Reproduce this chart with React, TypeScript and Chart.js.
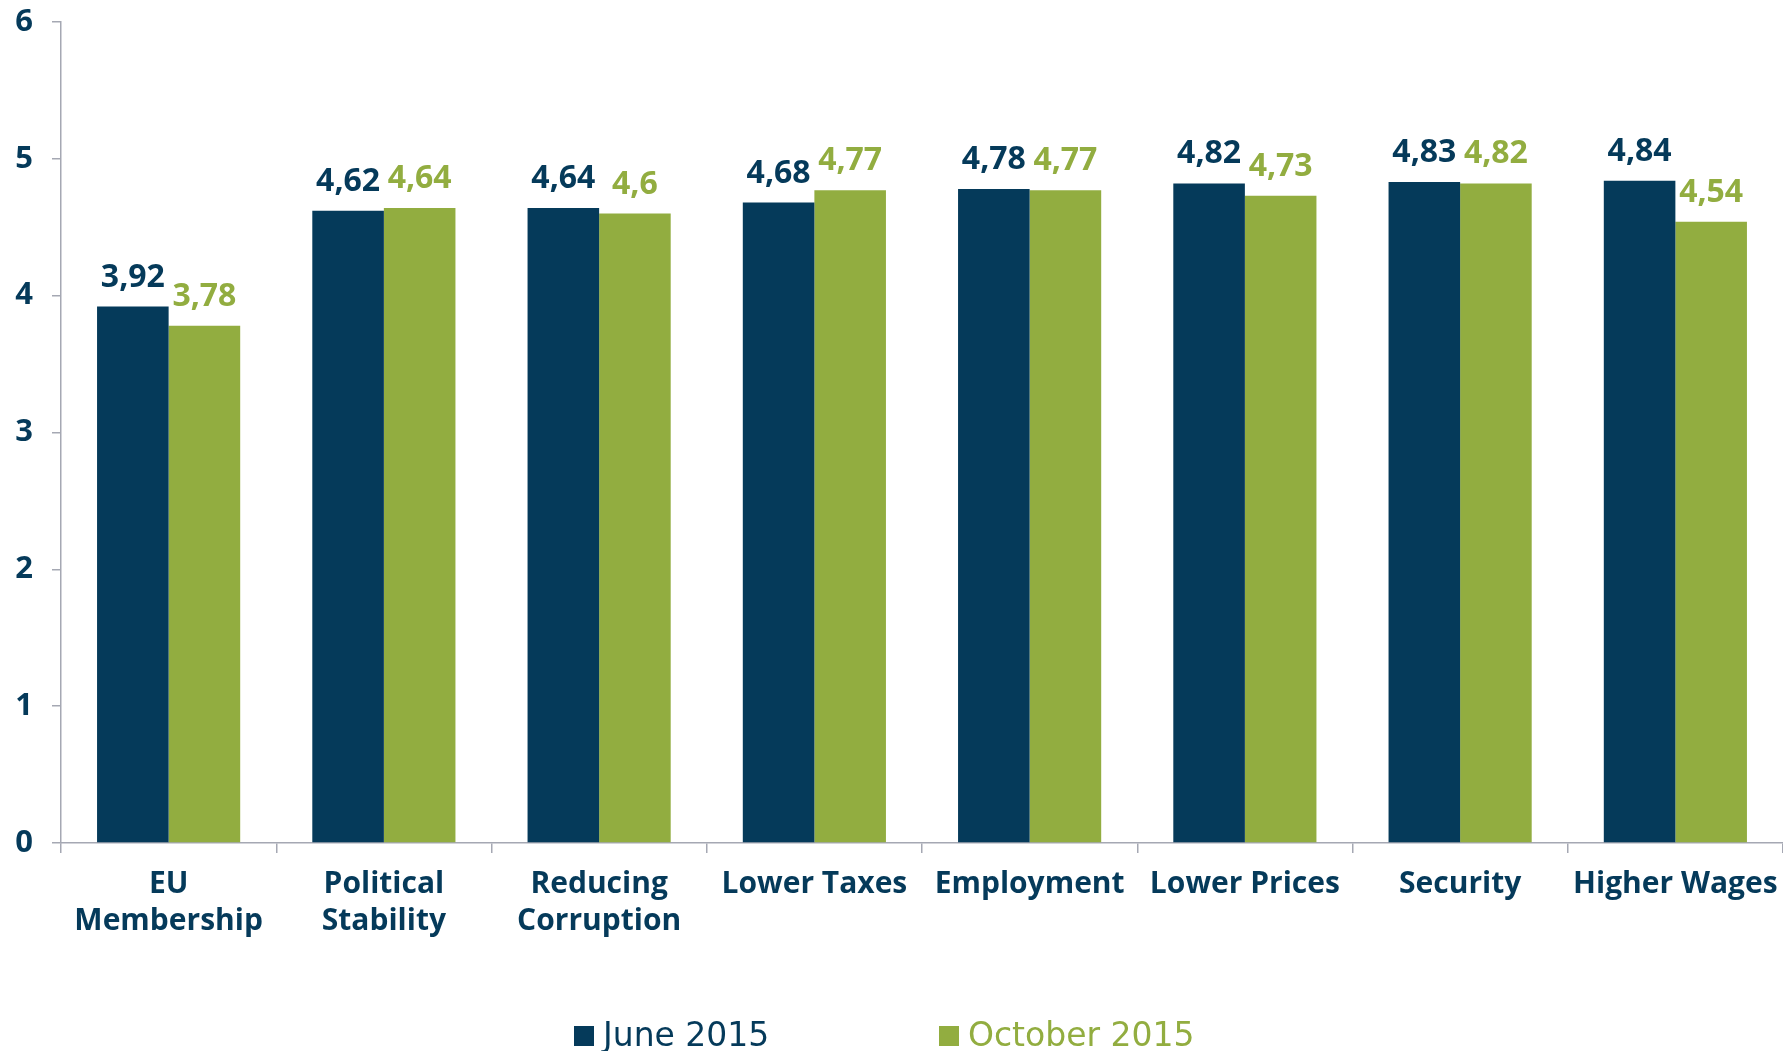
import React, { useEffect, useRef } from "react";
import { Chart, registerables } from "chart.js";

Chart.register(...registerables);

const categories: (string | string[])[] = [
  ["EU", "Membership"],
  ["Political", "Stability"],
  ["Reducing", "Corruption"],
  "Lower Taxes",
  "Employment",
  "Lower Prices",
  "Security",
  "Higher Wages",
];
const june2015 = [3.92, 4.62, 4.64, 4.68, 4.78, 4.82, 4.83, 4.84];
const october2015 = [3.78, 4.64, 4.6, 4.77, 4.77, 4.73, 4.82, 4.54];
const seriesNames = ["June 2015", "October 2015"];
const yMin = 0;
const yMax = 6;
const yStep = 1;

const NAVY = "#053A5A";
const GREEN = "#92AD40";
const AXIS = "#A5A8B3";
const TICK_FONT = '"Open Sans", "DejaVu Sans", sans-serif';

const valueLabels = {
  id: "valueLabels",
  afterDatasetsDraw(chart: any) {
    const ctx = chart.ctx;
    ctx.save();
    ctx.font = `bold 32px ${TICK_FONT}`;
    ctx.textAlign = "center";
    ctx.textBaseline = "alphabetic";
    chart.data.datasets.forEach((ds: any, i: number) => {
      const meta = chart.getDatasetMeta(i);
      meta.data.forEach((bar: any, j: number) => {
        ctx.fillStyle = ds.backgroundColor;
        ctx.fillText(String(ds.data[j]).replace(".", ","), bar.x, bar.y - 20);
      });
    });
    ctx.restore();
  },
};

const bottomLegend = {
  id: "bottomLegend",
  afterDraw(chart: any) {
    const ctx = chart.ctx;
    const xs = [574, 939];
    ctx.save();
    ctx.font = `33px "DejaVu Sans", sans-serif`;
    ctx.textAlign = "left";
    ctx.textBaseline = "alphabetic";
    chart.data.datasets.forEach((ds: any, i: number) => {
      ctx.fillStyle = ds.backgroundColor;
      ctx.fillRect(xs[i], 1026, 20, 20);
      ctx.fillText(ds.label, xs[i] + 29, 1046);
    });
    ctx.restore();
  },
};

export default function App() {
  const ref = useRef<HTMLCanvasElement | null>(null);

  useEffect(() => {
    if (!ref.current) return;
    const chart = new Chart(ref.current, {
      type: "bar",
      data: {
        labels: categories,
        datasets: [
          {
            label: seriesNames[0],
            data: june2015,
            backgroundColor: NAVY,
            barPercentage: 1,
            categoryPercentage: 0.665,
          },
          {
            label: seriesNames[1],
            data: october2015,
            backgroundColor: GREEN,
            barPercentage: 1,
            categoryPercentage: 0.665,
          },
        ],
      },
      options: {
        responsive: false,
        animation: false,
        devicePixelRatio: 1,
        layout: { padding: { top: 22, left: 0, right: 0, bottom: 0 } },
        plugins: {
          legend: { display: false },
          tooltip: { enabled: false },
        },
        scales: {
          x: {
            afterFit(scale: any) {
              scale.height = 208;
              scale.paddingLeft = 0;
              scale.paddingRight = 0;
            },
            grid: {
              offset: true,
              drawOnChartArea: false,
              tickLength: 10,
              color: AXIS,
              lineWidth: 1.5,
            },
            border: { color: AXIS, width: 1.5 },
            ticks: {
              color: NAVY,
              font: { family: TICK_FONT, weight: "bold", size: 30, lineHeight: 1.23 },
              padding: 13,
              maxRotation: 0,
              autoSkip: false,
            },
          },
          y: {
            min: yMin,
            max: yMax,
            afterFit(scale: any) {
              scale.width = 61;
              scale.paddingTop = 0;
              scale.paddingBottom = 0;
            },
            grid: {
              drawOnChartArea: false,
              tickLength: 9,
              color: AXIS,
              lineWidth: 1.5,
            },
            border: { color: AXIS, width: 1.5 },
            ticks: {
              stepSize: yStep,
              color: NAVY,
              font: { family: TICK_FONT, weight: "bold", size: 31 },
              padding: 19,
            },
          },
        },
      },
      plugins: [valueLabels, bottomLegend],
    });
    return () => chart.destroy();
  }, []);

  return (
    <div style={{ position: "fixed", left: 0, top: 0, width: 1783, height: 1051, background: "#fff" }}>
      <canvas ref={ref} width={1783} height={1051} style={{ display: "block" }} />
    </div>
  );
}
